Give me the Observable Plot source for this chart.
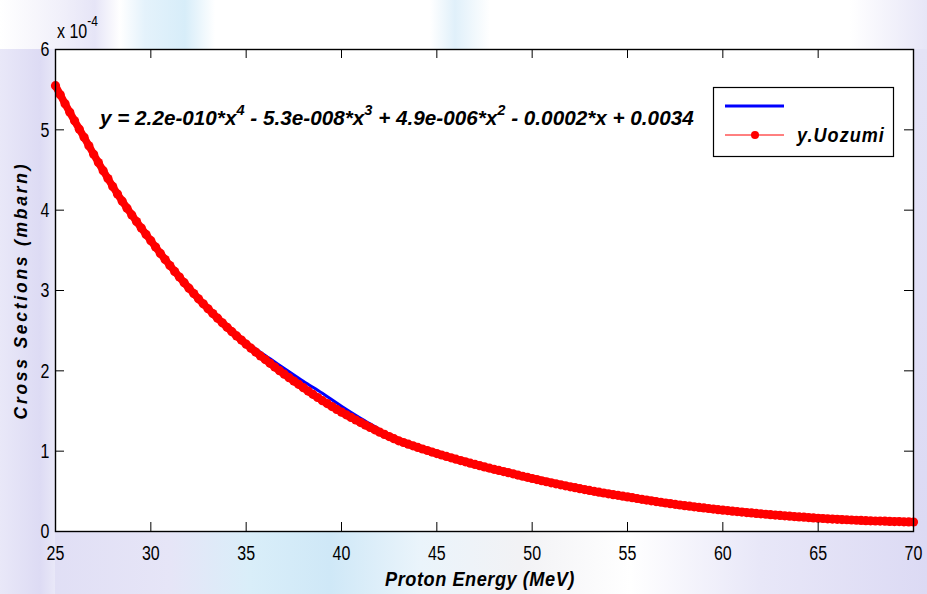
<!DOCTYPE html>
<html>
<head>
<meta charset="utf-8">
<script src="https://cdn.jsdelivr.net/npm/d3@7"></script>
<script src="https://cdn.jsdelivr.net/npm/@observablehq/plot@0.6"></script>
<style>
html, body { margin: 0; padding: 0; }
body {
  width: 927px; height: 594px; overflow: hidden;
  background:
    linear-gradient(to right, #e9e8f8 0px, #dddbf4 40px, #e9e8f8 55px) 0 49px / 55px 545px no-repeat,
    linear-gradient(to right, #dedcf4 0, #e6e5f7 170px, #d9eef9 250px, #cfe8f7 330px, #eaf4fb 420px, #f2f2f5 520px, #ffffff 630px, #e8e7f8 760px, #dcdaf4 927px) 0 531px / 927px 63px no-repeat,
    linear-gradient(to right, #ffffff 0, #f1f0fa 60px, #e6e5f7 95px, #ffffff 120px, #e4f2fb 145px, #d7edf9 185px, #ffffff 215px, #ffffff 430px, #e0f0fa 455px, #ffffff 490px, #ffffff 850px, #e7e6f7 927px) 0 0 / 927px 49px no-repeat,
    linear-gradient(#e4e3f6, #dcdaf4) 913px 49px / 14px 482px no-repeat,
    #ffffff;
}
#chart { position: relative; width: 927px; height: 594px; }
</style>
</head>
<body>
<div id="chart"></div>
<script>
// Proton energy (MeV) of the y.Uozumi series
const energy = [
  25.00,25.25,25.50,25.75,26.00,26.25,26.50,26.75,27.00,27.25,27.50,27.75,28.00,28.25,28.50,28.75,
  29.00,29.25,29.50,29.75,30.00,30.25,30.50,30.75,31.00,31.25,31.50,31.75,32.00,32.25,32.50,32.75,
  33.00,33.25,33.50,33.75,34.00,34.25,34.50,34.75,35.00,35.25,35.50,35.75,36.00,36.25,36.50,36.75,
  37.00,37.25,37.50,37.75,38.00,38.25,38.50,38.75,39.00,39.25,39.50,39.75,40.00,40.25,40.50,40.75,
  41.00,41.25,41.50,41.75,42.00,42.25,42.50,42.75,43.00,43.25,43.50,43.75,44.00,44.25,44.50,44.75,
  45.00,45.25,45.50,45.75,46.00,46.25,46.50,46.75,47.00,47.25,47.50,47.75,48.00,48.25,48.50,48.75,
  49.00,49.25,49.50,49.75,50.00,50.25,50.50,50.75,51.00,51.25,51.50,51.75,52.00,52.25,52.50,52.75,
  53.00,53.25,53.50,53.75,54.00,54.25,54.50,54.75,55.00,55.25,55.50,55.75,56.00,56.25,56.50,56.75,
  57.00,57.25,57.50,57.75,58.00,58.25,58.50,58.75,59.00,59.25,59.50,59.75,60.00,60.25,60.50,60.75,
  61.00,61.25,61.50,61.75,62.00,62.25,62.50,62.75,63.00,63.25,63.50,63.75,64.00,64.25,64.50,64.75,
  65.00,65.25,65.50,65.75,66.00,66.25,66.50,66.75,67.00,67.25,67.50,67.75,68.00,68.25,68.50,68.75,
  69.00,69.25,69.50,69.75,70.00
];
// Cross sections, in units of 1e-4 mbarn (axis multiplier "x 10^-4")
const uozumi = [
  5.550,5.437,5.326,5.218,5.112,5.008,4.907,4.802,4.696,4.593,4.492,4.393,4.296,4.200,4.112,4.025,
  3.941,3.858,3.777,3.698,3.620,3.540,3.462,3.386,3.311,3.238,3.167,3.097,3.029,2.962,2.896,2.834,
  2.773,2.713,2.655,2.598,2.542,2.488,2.435,2.383,2.332,2.282,2.234,2.186,2.140,2.093,2.047,2.002,
  1.958,1.915,1.873,1.832,1.790,1.748,1.708,1.668,1.629,1.592,1.555,1.520,1.486,1.452,1.420,1.388,
  1.356,1.325,1.295,1.266,1.237,1.209,1.182,1.155,1.129,1.108,1.087,1.067,1.047,1.027,1.008,0.989,
  0.970,0.952,0.934,0.917,0.900,0.883,0.867,0.851,0.835,0.819,0.804,0.789,0.774,0.760,0.746,0.732,
  0.718,0.703,0.688,0.674,0.660,0.646,0.632,0.619,0.606,0.593,0.581,0.568,0.556,0.545,0.533,0.522,
  0.511,0.500,0.490,0.479,0.469,0.459,0.450,0.440,0.431,0.421,0.411,0.401,0.391,0.382,0.373,0.364,
  0.355,0.347,0.338,0.330,0.322,0.315,0.307,0.300,0.293,0.286,0.279,0.272,0.266,0.260,0.253,0.248,
  0.242,0.236,0.231,0.225,0.220,0.215,0.210,0.205,0.200,0.195,0.191,0.186,0.182,0.178,0.173,0.169,
  0.165,0.162,0.158,0.155,0.152,0.149,0.146,0.143,0.140,0.138,0.135,0.133,0.131,0.130,0.128,0.126,
  0.124,0.123,0.121,0.119,0.118
];
// Polynomial fit curve (blue)
const fitEnergy = [25,26,27,28,29,30,31,32,33,34,35,36,37,38,39,40,41,42,43,44,45,47.5,50,52.5,55,57.5,60,62.5,65,67.5,70];
const fitValues = [5.52,5.08,4.68,4.30,3.95,3.63,3.32,3.03,2.76,2.53,2.36,2.19,2.03,1.87,1.72,1.56,1.41,1.27,1.12,1.03,0.96,0.80,0.66,0.53,0.43,0.345,0.27,0.21,0.168,0.135,0.118];

const xTicks = [25,30,35,40,45,50,55,60,65,70];
const yTicks = [0,1,2,3,4,5,6];
const xTitle = "Proton Energy (MeV)";
const yTitle = "Cross Sections (mbarn)";
const multiplierBase = "x 10";
const multiplierExp = "-4";
const equationParts = [
  ["y = 2.2e-010*x", false], ["4", true],
  [" - 5.3e-008*x", false], ["3", true],
  [" + 4.9e-006*x", false], ["2", true],
  [" - 0.0002*x + 0.0034", false]
];
const seriesNames = ["", "y.Uozumi"];

const red = energy.map((e, i) => ({e, v: uozumi[i]}));
const fit = fitEnergy.map((e, i) => ({e, v: fitValues[i]}));

const W = 927, H = 594, mL = 55, mR = 14, mT = 49, mB = 63;
const fw = W - mL - mR, fh = H - mT - mB, tl = 9;
const FONT = "'Liberation Sans', Arial, Helvetica, sans-serif";

const plot = Plot.plot({
  width: W, height: H,
  marginLeft: mL, marginRight: mR, marginTop: mT, marginBottom: mB,
  x: {domain: [25, 70]},
  y: {domain: [0, 6]},
  style: {background: "transparent", fontFamily: FONT, fontSize: "16px", color: "black", overflow: "visible"},
  marks: [
    Plot.frame({fill: "white", stroke: null}),
    Plot.line(fit, {x: "e", y: "v", stroke: "#0000ff", strokeWidth: 3, curve: "monotone-x"}),
    Plot.line(red, {x: "e", y: "v", stroke: "#ff0000", strokeWidth: 7.5}),
    Plot.dot(red, {x: "e", y: "v", r: 4.6, fill: "#ff0000", stroke: null}),
    Plot.tickX(xTicks, {x: d => d, insetTop: fh - tl, stroke: "black", strokeWidth: 1}),
    Plot.tickX(xTicks, {x: d => d, insetBottom: fh - tl, stroke: "black", strokeWidth: 1}),
    Plot.tickY(yTicks, {y: d => d, insetRight: fw - tl, stroke: "black", strokeWidth: 1}),
    Plot.tickY(yTicks, {y: d => d, insetLeft: fw - tl, stroke: "black", strokeWidth: 1}),
    Plot.axisX({ticks: xTicks, tickSize: 0, tickPadding: 14, label: null, fontSize: 16, tickFormat: d => String(d)}),
    Plot.axisY({ticks: yTicks, tickSize: 0, tickPadding: 6, label: null, fontSize: 16, tickFormat: d => String(d)}),
    Plot.frame({stroke: "black", strokeWidth: 1.4})
  ]
});
document.getElementById("chart").appendChild(plot);

const svg = d3.select(plot);

// stretch tick labels vertically like the reference
svg.selectAll("g[aria-label$='tick label'] text").each(function() {
  const t = this.getAttribute("transform");
  if (t) {
    this.setAttribute("transform", t + " scale(1,1.3)");
  } else {
    const x = +this.getAttribute("x") || 0, y = +this.getAttribute("y") || 0;
    this.removeAttribute("x"); this.removeAttribute("y");
    this.setAttribute("transform", `translate(${x},${y}) scale(1,1.3)`);
  }
});

function fitWidth(sel, target) {
  const n = sel.node();
  const len = n.getComputedTextLength();
  const base = sel.attr("data-t");
  const sy = +sel.attr("data-sy") || 1;
  sel.attr("transform", `${base} scale(${target / len},${sy})`);
}

// axis multiplier "x 10^-4"
const mult = svg.append("text").attr("font-family", FONT).attr("font-size", 16)
  .attr("text-anchor", "start")
  .attr("transform", "translate(57,38) scale(1,1.25)");
mult.append("tspan").text(multiplierBase);
mult.append("tspan").attr("font-size", 12).attr("dy", -10).text(multiplierExp);

// equation
const eq = svg.append("text").attr("font-family", FONT).attr("font-size", 17)
  .attr("font-weight", "bold").attr("font-style", "italic").attr("text-anchor", "start")
  .attr("data-t", "translate(100,125)").attr("data-sy", 1.2);
let raised = false;
equationParts.forEach(([s, sup]) => {
  const ts = eq.append("tspan").text(s);
  if (sup) { ts.attr("font-size", 12).attr("dy", -8); raised = true; }
  else if (raised) { ts.attr("dy", 8); raised = false; }
});
fitWidth(eq, 594);

// axis titles
const xt = svg.append("text").attr("font-family", FONT).attr("font-size", 17)
  .attr("font-weight", "bold").attr("font-style", "italic").attr("text-anchor", "middle")
  .attr("data-t", "translate(480,586)").attr("data-sy", 1.15)
  .attr("letter-spacing", 0.5)
  .text(xTitle);
fitWidth(xt, 190);
const yt = svg.append("text").attr("font-family", FONT).attr("font-size", 17.5)
  .attr("font-weight", "bold").attr("font-style", "italic").attr("text-anchor", "middle")
  .attr("transform", "translate(27,292) rotate(-90)")
  .attr("textLength", 255).attr("lengthAdjust", "spacing")
  .text(yTitle);

// legend
const lg = svg.append("g");
lg.append("rect").attr("x", 713.5).attr("y", 87.5).attr("width", 180).attr("height", 69)
  .attr("fill", "white").attr("stroke", "black").attr("stroke-width", 1.2);
lg.append("line").attr("x1", 725).attr("x2", 784).attr("y1", 106).attr("y2", 106)
  .attr("stroke", "#0000ff").attr("stroke-width", 3);
lg.append("line").attr("x1", 725).attr("x2", 784).attr("y1", 135).attr("y2", 135)
  .attr("stroke", "#ff0000").attr("stroke-width", 1);
lg.append("circle").attr("cx", 755).attr("cy", 135).attr("r", 4).attr("fill", "#ff0000");
const lt = lg.append("text").attr("font-family", FONT).attr("font-size", 17)
  .attr("font-weight", "bold").attr("font-style", "italic").attr("text-anchor", "start")
  .attr("data-t", "translate(797,142)").attr("data-sy", 1.15)
  .attr("letter-spacing", 1)
  .text(seriesNames[1]);
fitWidth(lt, 88);
</script>
</body>
</html>
